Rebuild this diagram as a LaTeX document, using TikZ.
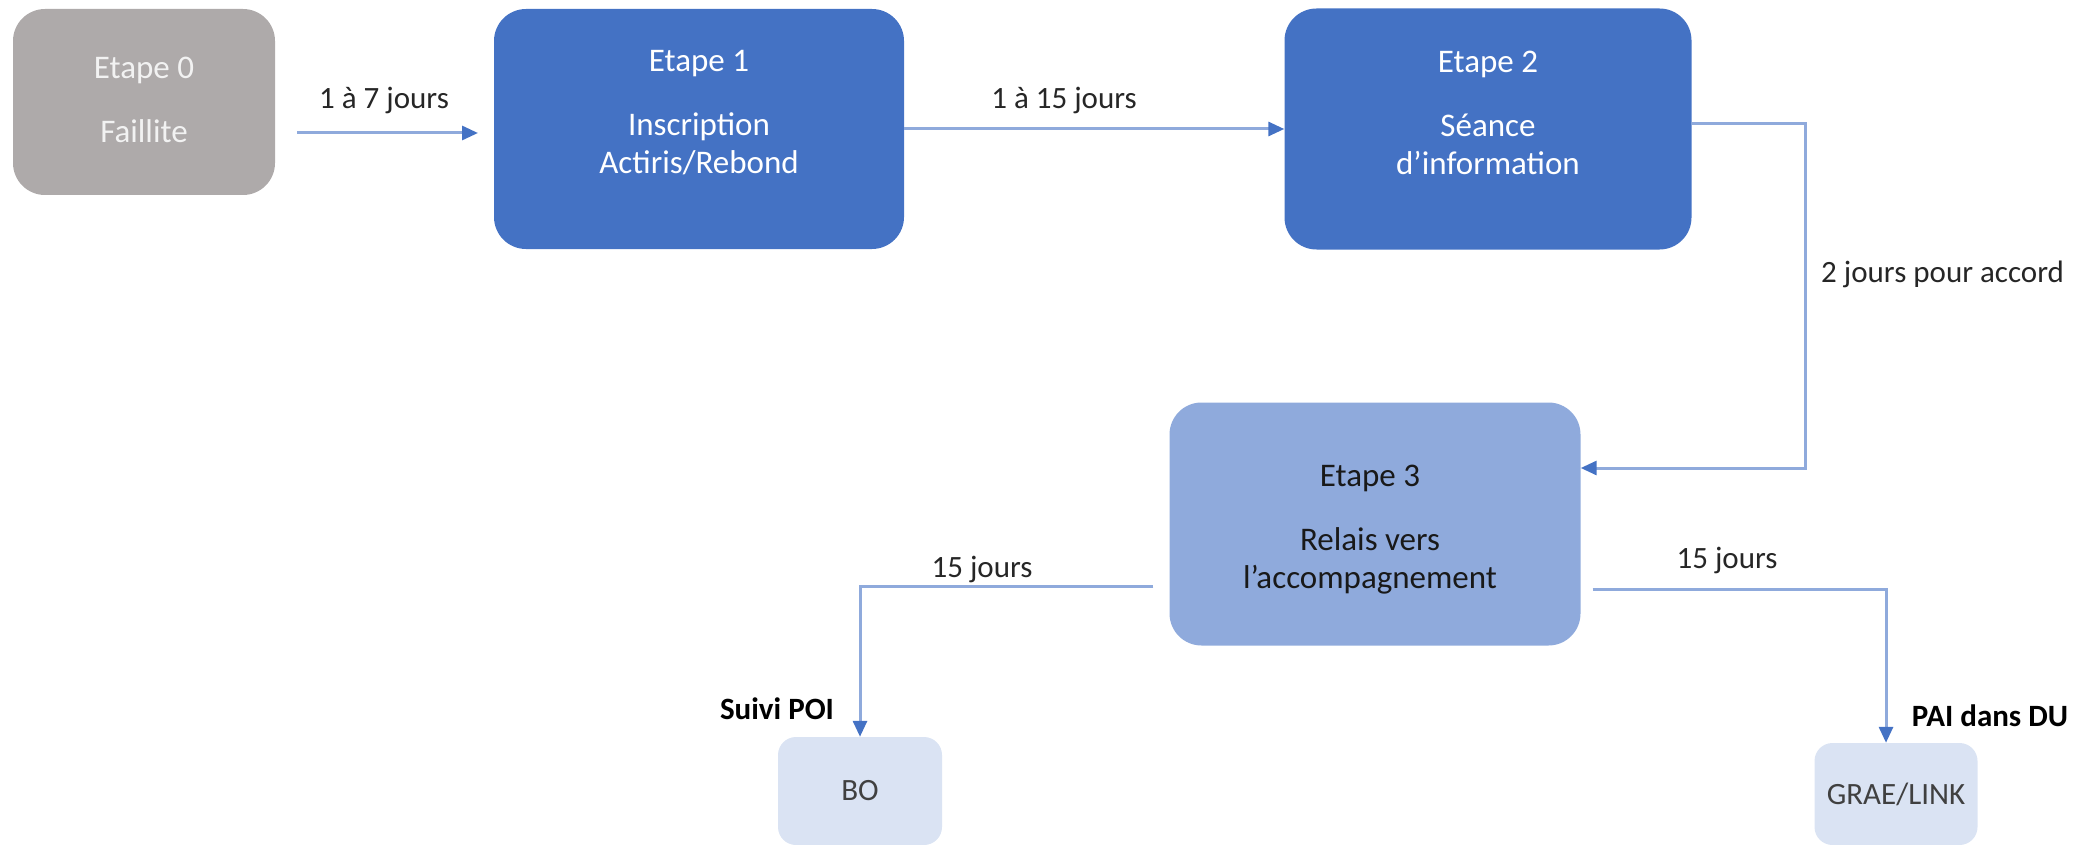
\documentclass[tikz,border=0pt]{standalone}
\usepackage{fontspec}
\setmainfont{Carlito}
\usetikzlibrary{arrows.meta,calc}
\definecolor{cgray}{HTML}{AEAAAA}
\definecolor{cblue}{HTML}{4472C4}
\definecolor{cmid}{HTML}{8FAADC}
\definecolor{clight}{HTML}{DAE3F3}
\definecolor{ctext}{HTML}{262626}
\tikzset{
  box/.style={rounded corners=32pt, inner sep=0pt, draw=none},
  smallbox/.style={rounded corners=18pt, inner sep=0pt, draw=none, fill=clight,
    text=black!75, font=\fontsize{31}{36}\selectfont},
  boxtext/.style={align=center, font=\fontsize{33}{38}\selectfont, inner sep=0pt},
  lab/.style={text=ctext, font=\fontsize{31}{36}\selectfont, inner sep=0pt},
  blab/.style={text=black, font=\bfseries\fontsize{31}{36}\selectfont, inner sep=0pt},
  conn/.style={draw=cmid, line width=3pt, -{Triangle[length=16pt,width=14pt,color=cblue]}},
}
\begin{document}
\begin{tikzpicture}[x=1pt,y=-1pt]
\useasboundingbox (0,0) rectangle (2084,845);
% boxes
\node[box, fill=cgray, minimum width=262pt, minimum height=186pt] (b0) at (144,102) {};
\node[box, fill=cblue, minimum width=410pt, minimum height=240pt] (b1) at (699,129) {};
\node[box, fill=cblue, minimum width=407pt, minimum height=241pt] (b2) at (1488,129) {};
\node[box, fill=cmid, minimum width=411pt, minimum height=243pt] (b3) at (1375,524) {};
\node[smallbox, minimum width=164pt, minimum height=108pt] (bo) at (860,791) {BO};
\node[smallbox, minimum width=163pt, minimum height=102pt] (gr) at (1896,794) {GRAE/LINK};
% box texts
\node[boxtext, text=white!95!black] (t0) at (144,100) {Etape 0\\[26pt]Faillite};
\node[boxtext, text=white] (t1) at (699,113) {Etape 1\\[26pt]Inscription\\Actiris/Rebond};
\node[boxtext, text=white] (t2) at (1488,113) {Etape 2\\[26pt]Séance\\d’information};
\node[boxtext, text=black!90] (t3) at (1370,530) {Etape 3\\[26pt]Relais vers\\l’accompagnement};
% connectors
\coordinate (a1s) at (297,133);
\coordinate (a1e) at (478,133);
\draw[conn] (a1s) -- (a1e);
\draw[conn] (b1.east) -- (b2.west);
\coordinate (k1) at (1805,124);
\draw[conn] ([yshift=5pt]b2.east) -- (k1) |- ([yshift=56pt]b3.east);
\draw[conn] ([xshift=-16pt,yshift=-62pt]b3.west) -| (bo.north);
\draw[conn] ([xshift=12pt,yshift=-65pt]b3.east) -| ([xshift=-10pt]gr.north);
% labels
\node[lab] (l1) at (384,100) {1 à 7 jours};
\node[lab] (l2) at (1064,100) {1 à 15 jours};
\node[lab, anchor=west] (l3) at (1821,274) {2 jours pour accord};
\node[lab] (l4) at (982,569) {15 jours};
\node[lab] (l5) at (1727,560) {15 jours};
\node[blab] (l6) at (777,709) {Suivi POI};
\node[blab] (l7) at (1990,716) {PAI dans DU};
\end{tikzpicture}
\end{document}
